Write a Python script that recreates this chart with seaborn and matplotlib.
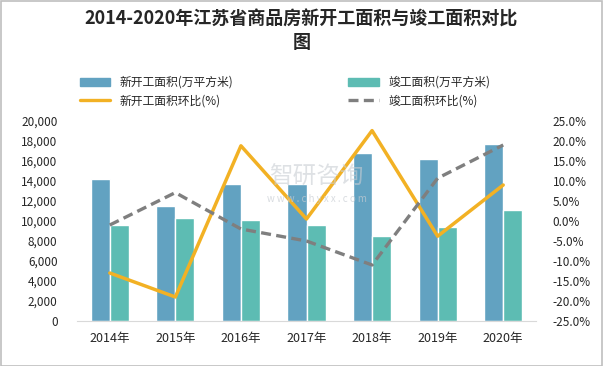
import pandas as pd
import matplotlib
matplotlib.use('Agg')
import matplotlib.pyplot as plt
import matplotlib.ticker as mticker
import seaborn as sns
from matplotlib.patches import Patch
from matplotlib.lines import Line2D

# dados
anos = ['2014年', '2015年', '2016年', '2017年', '2018年', '2019年', '2020年']
novo_area = [14200, 11500, 13700, 13700, 16800, 16200, 17700]
concl_area = [9600, 10300, 10100, 9600, 8500, 9400, 11100]
novo_var = [-13.0, -19.0, 18.8, 0.5, 22.6, -3.8, 9.0]
concl_var = [-1.0, 7.1, -2.0, -5.0, -11.0, 10.7, 19.0]

nome_novo = '新开工面积(万平方米)'
nome_concl = '竣工面积(万平方米)'
nome_novo_var = '新开工面积环比(%)'
nome_concl_var = '竣工面积环比(%)'

sns.set_style('white')
plt.rcParams['font.family'] = ['Noto Sans CJK SC', 'DejaVu Sans']
plt.rcParams['axes.unicode_minus'] = False

df_barras = pd.DataFrame({
    'ano': anos * 2,
    'valor': novo_area + concl_area,
    'serie': [nome_novo] * len(anos) + [nome_concl] * len(anos),
})

cor_azul = '#62A2C1'
cor_verde = '#5DBCB3'
cor_amarelo = '#F2B124'
cor_cinza = '#7F7F7F'

fig = plt.figure(figsize=(6.03, 3.66), dpi=100)
ax = fig.add_axes([77 / 603, 45 / 366, 459 / 603, 200 / 366])

sns.barplot(data=df_barras, x='ano', y='valor', hue='serie', order=anos,
            palette=[cor_azul, cor_verde], width=0.58, saturation=1,
            ax=ax, legend=False)
ax.set_ylim(0, 20000)
ax.yaxis.set_major_locator(mticker.MultipleLocator(2000))
ax.yaxis.set_major_formatter(mticker.FuncFormatter(lambda v, p: f'{int(v):,}'))
ax.set_xlabel('')
ax.set_ylabel('')
for lado in ['top', 'left', 'right']:
    ax.spines[lado].set_visible(False)
ax.spines['bottom'].set_color('#D9D9D9')
ax.tick_params(axis='y', length=0, labelsize=8.5, pad=14)
ax.tick_params(axis='x', length=0, labelsize=9, pad=8)

# eixo secundário com as variações
ax2 = ax.twinx()
sns.lineplot(x=anos, y=novo_var, color=cor_amarelo, linewidth=2.5, sort=False, ax=ax2)
sns.lineplot(x=anos, y=concl_var, color=cor_cinza, linewidth=2.4, sort=False,
             linestyle=(0, (3, 1.6)), ax=ax2)
ax2.set_ylim(-25, 25)
ax2.yaxis.set_major_locator(mticker.MultipleLocator(5))
ax2.yaxis.set_major_formatter(mticker.FuncFormatter(lambda v, p: f'{v:.1f}%'))
ax2.tick_params(axis='y', length=0, labelsize=8.5, pad=12)
for lado in ['top', 'left', 'right', 'bottom']:
    ax2.spines[lado].set_visible(False)
ax.set_xlim(-0.5, 6.5)

# marca d'água
fig.text(0.525, 0.515, '智研咨询', fontsize=17, color='#C8CDD3', alpha=0.6,
         ha='center', va='center')
fig.text(0.525, 0.455, 'w w w . c h y x x . c o m', fontsize=7, color='#C8CDD3',
         alpha=0.7, ha='center', va='center')

# legenda
alcas = [
    Patch(color=cor_azul, label=nome_novo),
    Line2D([], [], color=cor_amarelo, lw=2.4, label=nome_novo_var),
    Patch(color=cor_verde, label=nome_concl),
    Line2D([], [], color=cor_cinza, lw=2.4, ls=(0, (3, 1.6)), label=nome_concl_var),
]
fig.legend(handles=alcas, ncol=2, loc='lower left',
           bbox_to_anchor=(75 / 603, 1 - 112 / 366, 420 / 603, 36 / 366),
           mode='expand', frameon=False, fontsize=8.5, handlelength=2.6,
           handleheight=0.6, labelspacing=0.45, borderaxespad=0)

fig.suptitle('2014-2020年江苏省商品房新开工面积与竣工面积对比\n图',
             fontsize=13, fontweight='bold', y=0.975, linespacing=1.3)

fig.patches.append(plt.Rectangle((0.001, 0.001), 0.997, 0.996, transform=fig.transFigure,
                                 fill=False, edgecolor='#BFBFBF', lw=1.2))

plt.savefig('out.png', dpi=100)
